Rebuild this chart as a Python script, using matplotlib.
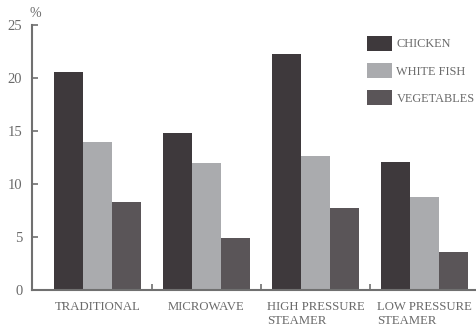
import numpy as np
import matplotlib
matplotlib.use("Agg")
import matplotlib.pyplot as plt

# Values (percent)
methods = ["TRADITIONAL", "MICROWAVE", "HIGH PRESSURE\nSTEAMER", "LOW PRESSURE\nSTEAMER"]
series_names = ["CHICKEN", "WHITE FISH", "VEGETABLES"]
chicken = [20.6, 14.8, 22.3, 12.1]
white_fish = [14.0, 12.0, 12.6, 8.8]
vegetables = [8.3, 4.9, 7.7, 3.6]
yticks = [0, 5, 10, 15, 20, 25]

colors = ["#3e393c", "#aaabae", "#5a5558"]
axis_col = "#707070"
text_col = "#6a6a6a"

plt.rcParams["font.family"] = ["Liberation Serif", "DejaVu Serif"]

fig = plt.figure(figsize=(4.76, 3.32), dpi=100)
ax = fig.add_axes([32 / 476, 42 / 332, 1 - 32 / 476, 265 / 332])

x = np.arange(len(methods))
w = 0.267
for i, (vals, name) in enumerate(zip([chicken, white_fish, vegetables], series_names)):
    ax.bar(x + (i - 1) * w, vals, width=w, color=colors[i], label=name, linewidth=0)

ax.set_xlim(-0.6, 3.47)
ax.set_ylim(0, 25)

for s in ["top", "right"]:
    ax.spines[s].set_visible(False)
for s in ["left", "bottom"]:
    ax.spines[s].set_color(axis_col)
    ax.spines[s].set_linewidth(1.5)

ax.set_yticks(yticks)
ax.tick_params(axis="y", direction="in", length=4, width=1.2, color=axis_col,
               labelcolor=text_col, labelsize=10.5, pad=7)

# group separators as minor ticks, labels at group centers
ax.set_xticks(x)
ax.set_xticklabels(methods, multialignment="left")
ax.set_xticks(x[:-1] + 0.5, minor=True)
ax.tick_params(axis="x", which="major", length=0, labelcolor=text_col, labelsize=9.2, pad=8)
ax.tick_params(axis="x", which="minor", direction="in", length=4, width=1.2, color=axis_col)

ax.text(-0.62, 25.5, "%", color=text_col, fontsize=10, va="bottom", ha="left")

leg = ax.legend(loc="upper left", bbox_to_anchor=(0.73, 1.0), frameon=False,
                fontsize=8.8, handlelength=2.0, handleheight=1.5, labelspacing=1.0,
                handletextpad=0.4)
for t in leg.get_texts():
    t.set_color(text_col)

fig.savefig("out.png", dpi=100)
